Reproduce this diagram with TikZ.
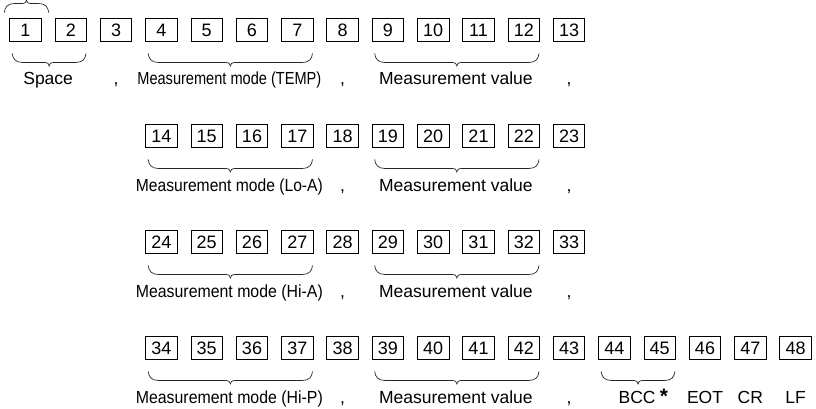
\documentclass[tikz,border=0pt]{standalone}
\usepackage{fontspec}
\usepackage{graphicx}
\setmainfont{Liberation Sans}
\usetikzlibrary{calc}

\tikzset{
  cell/.style={draw=black, line width=0.9pt, minimum width=31.5pt, minimum height=23pt,
    inner sep=0pt, font=\fontsize{18}{20}\selectfont},
  lbl/.style={anchor=base, inner sep=0pt, font=\fontsize{17.5}{20}\selectfont},
  bracepen/.style={draw=black!85, line width=0.7pt},
}

% horizontally squeezed label text
\newcommand\squeezed[2]{\resizebox{#1}{\height}{#2}}

% curly brace between two points; #3 = +1 opens upward, -1 downward
\newcommand\curly[3]{%
  \draw[bracepen] let \p1=(#1), \p2=(#2), \n1={(\x1+\x2)/2}, \n2={#3},
      \n3={\y1+5.5*\n2}, \n4={\y1+9*\n2}, \n5={\y1+10.5*\n2}, \n6={\y1+12.5*\n2} in
    (\p1) .. controls ({\x1+0.5},\n3) and ({\x1+3.5},\n4) .. ({\x1+10},\n4)
    -- ({\n1-5},\n4) .. controls ({\n1-1.5},\n4) and (\n1,\n5) .. (\n1,\n6)
    .. controls (\n1,\n5) and ({\n1+1.5},\n4) .. ({\n1+5},\n4)
    -- ({\x2-10},\n4) .. controls ({\x2-3.5},\n4) and ({\x2-0.5},\n3) .. (\p2);}
\newcommand\bracebelow[2]{\curly{$(#1.south west)+(3,-11.5)$}{$(#2.south east)+(-1,-11.5)$}{-1}}

\begin{document}
\begin{tikzpicture}[x=1pt,y=1pt]
\useasboundingbox (0,0) rectangle (816,-409);

% character cells
\foreach \n in {1,...,13}  \node[cell] (b\n) at ({25.5+(\n-1)*45.3},-30)  {\n};
\foreach \n in {14,...,23} \node[cell] (b\n) at ({25.5+(\n-11)*45.3},-136) {\n};
\foreach \n in {24,...,33} \node[cell] (b\n) at ({25.5+(\n-21)*45.3},-242) {\n};
\foreach \n in {34,...,48} \node[cell] (b\n) at ({25.5+(\n-31)*45.3},-348) {\n};

% brace above cell 1
\curly{$(b1.north west)+(-5,5.5)$}{$(b1.north east)+(7,5.5)$}{1}

% row 1
\bracebelow{b1}{b2}
\bracebelow{b4}{b7}
\bracebelow{b9}{b12}
\node[lbl] (l1a) at ($(b1)!0.5!(b2)+(0,-55)$) {Space};
\node[lbl] (l1b) at ($(b3)+(0,-55)$) {,};
\node[lbl] (l1c) at ($(b4)!0.5!(b7)+(0,-55)$) {\squeezed{184pt}{Measurement mode (TEMP)}};
\node[lbl] (l1d) at ($(b8)+(0,-55)$) {,};
\node[lbl] (l1e) at ($(b9)!0.5!(b12)+(0,-55)$) {Measurement value};
\node[lbl] (l1f) at ($(b13)+(0,-55)$) {,};

% row 2
\bracebelow{b14}{b17}
\bracebelow{b19}{b22}
\node[lbl] (l2a) at ($(b14)!0.5!(b17)+(0,-55)$) {\squeezed{187pt}{Measurement mode (Lo-A)}};
\node[lbl] (l2b) at ($(b18)+(0,-55)$) {,};
\node[lbl] (l2c) at ($(b19)!0.5!(b22)+(0,-55)$) {Measurement value};
\node[lbl] (l2d) at ($(b23)+(0,-55)$) {,};

% row 3
\bracebelow{b24}{b27}
\bracebelow{b29}{b32}
\node[lbl] (l3a) at ($(b24)!0.5!(b27)+(0,-55)$) {\squeezed{187pt}{Measurement mode (Hi-A)}};
\node[lbl] (l3b) at ($(b28)+(0,-55)$) {,};
\node[lbl] (l3c) at ($(b29)!0.5!(b32)+(0,-55)$) {Measurement value};
\node[lbl] (l3d) at ($(b33)+(0,-55)$) {,};

% row 4
\bracebelow{b34}{b37}
\bracebelow{b39}{b42}
\bracebelow{b44}{b45}
\node[lbl] (l4a) at ($(b34)!0.5!(b37)+(0,-55)$) {\squeezed{187pt}{Measurement mode (Hi-P)}};
\node[lbl] (l4b) at ($(b38)+(0,-55)$) {,};
\node[lbl] (l4c) at ($(b39)!0.5!(b42)+(0,-55)$) {Measurement value};
\node[lbl] (l4d) at ($(b43)+(0,-55)$) {,};
\node[lbl] (l4e) at ($(b44)!0.5!(b45)+(0,-55)$) {BCC};
\node[lbl, anchor=base west, font=\fontsize{21}{22}\selectfont\bfseries] (l4f) at ($(l4e.base east)+(4,0)$) {*};
\node[lbl] (l4g) at ($(b46)+(0,-55)$) {EOT};
\node[lbl] (l4h) at ($(b47)+(0,-55)$) {CR};
\node[lbl] (l4i) at ($(b48)+(0,-55)$) {LF};
\end{tikzpicture}
\end{document}
